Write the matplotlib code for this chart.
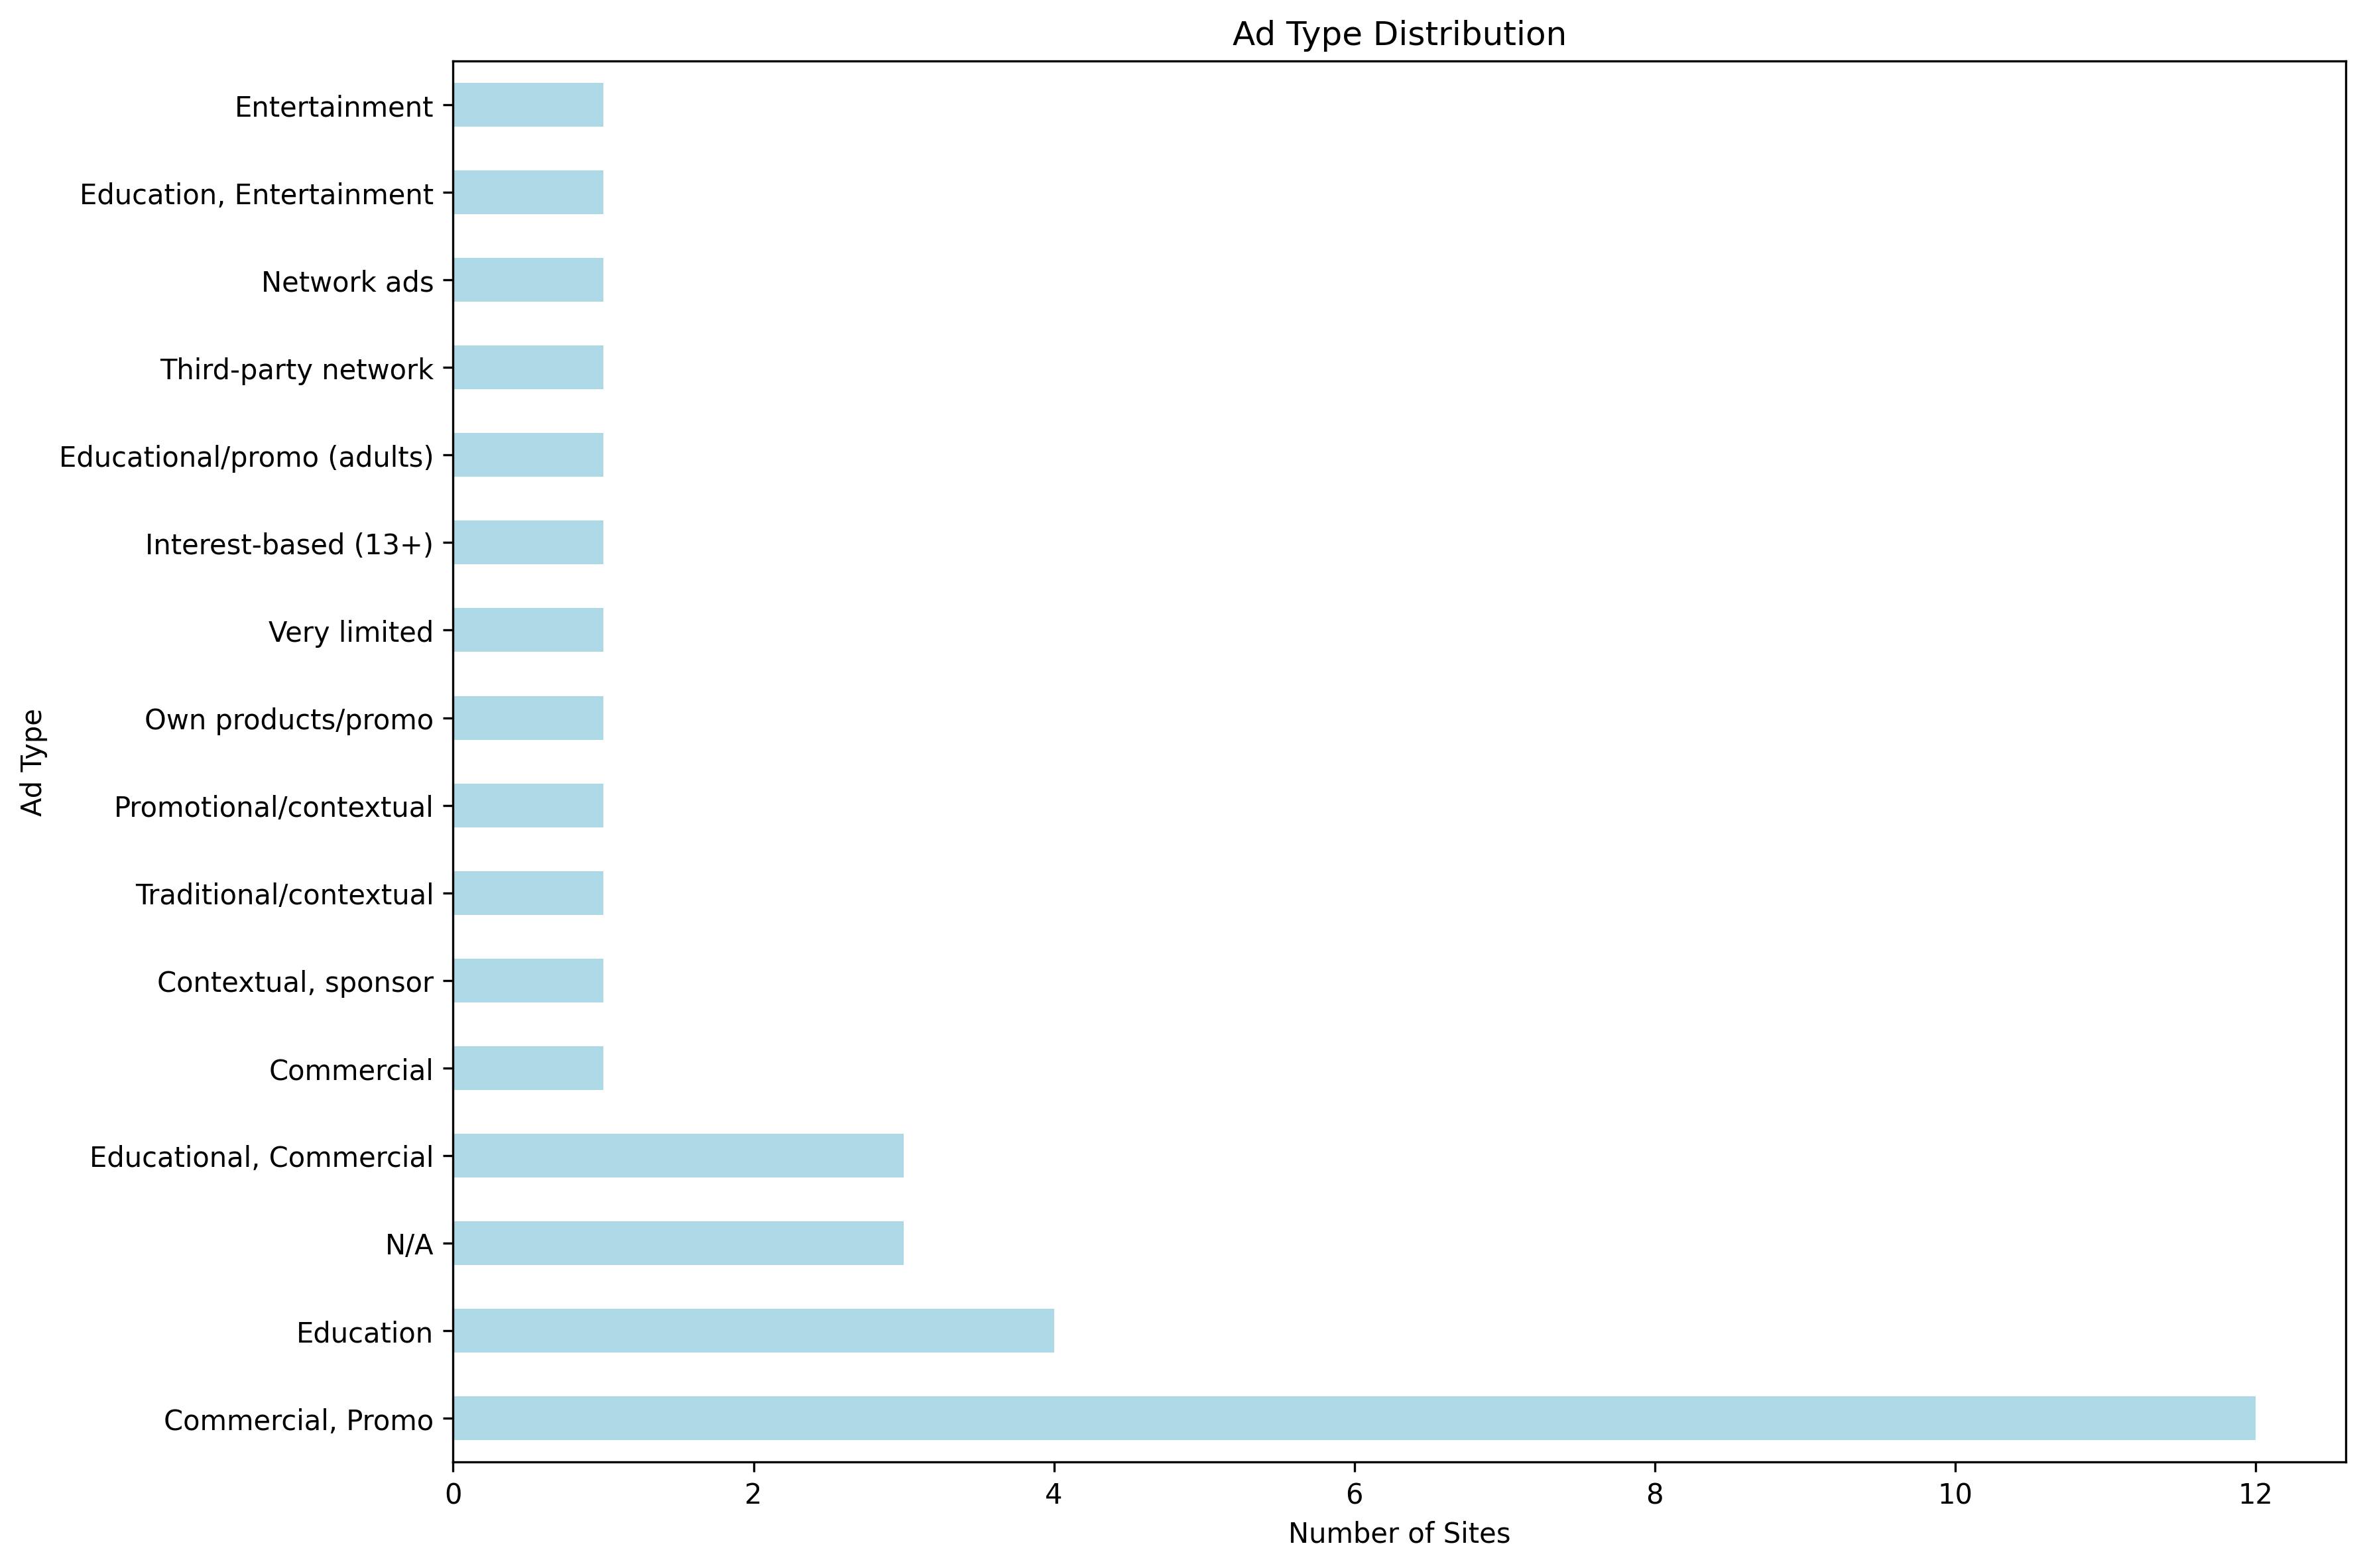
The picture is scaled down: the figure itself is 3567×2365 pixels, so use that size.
import matplotlib
matplotlib.use("Agg")
import matplotlib.pyplot as plt
import pandas as pd

# ad type counts, bottom-to-top order as drawn
ad_types = [
    "Commercial, Promo",
    "Education",
    "N/A",
    "Educational, Commercial",
    "Commercial",
    "Contextual, sponsor",
    "Traditional/contextual",
    "Promotional/contextual",
    "Own products/promo",
    "Very limited",
    "Interest-based (13+)",
    "Educational/promo (adults)",
    "Third-party network",
    "Network ads",
    "Education, Entertainment",
    "Entertainment",
]
site_counts = [12, 4, 3, 3, 1, 1, 1, 1, 1, 1, 1, 1, 1, 1, 1, 1]

counts = pd.Series(site_counts, index=ad_types)

fig, ax = plt.subplots(figsize=(12, 8))
counts.plot(kind="barh", color="lightblue", ax=ax)
ax.set_title("Ad Type Distribution")
ax.set_xlabel("Number of Sites")
ax.set_ylabel("Ad Type")
plt.tight_layout()
plt.savefig("out.png", dpi=300, bbox_inches="tight")
